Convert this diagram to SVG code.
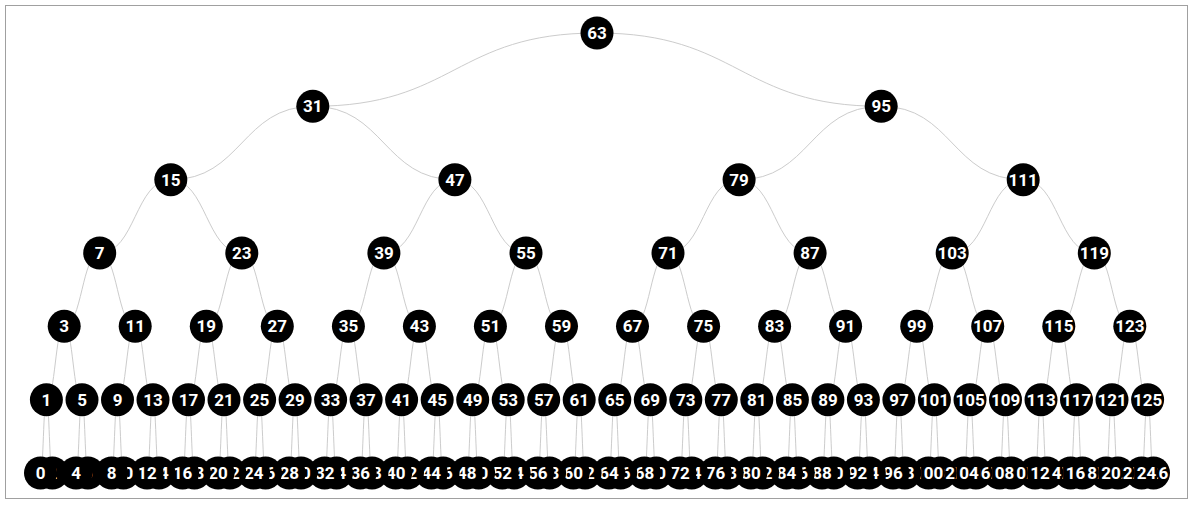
<svg xmlns="http://www.w3.org/2000/svg" width="1193" height="507" viewBox="0 0 1193 507">
<style>
.link{fill:none;stroke:#cccccc;stroke-width:1}
.node circle{fill:#000}
.node text{fill:#fff;font-family:Roboto,"Liberation Sans",sans-serif;font-weight:bold;font-size:17px;text-anchor:middle}
</style>
<rect x="5.5" y="5.5" width="1182" height="493" fill="#fff" stroke="#a0a0a0" stroke-width="1"/>
<g id="links">
<path class="link" d="M597,33C454.9,33 454.9,106.3 312.8,106.3"/>
<path class="link" d="M597,33C739.1,33 739.1,106.3 881.2,106.3"/>
<path class="link" d="M312.8,106.3C241.8,106.3 241.8,179.7 170.8,179.7"/>
<path class="link" d="M312.8,106.3C383.9,106.3 383.9,179.7 454.9,179.7"/>
<path class="link" d="M881.2,106.3C810.2,106.3 810.2,179.7 739.1,179.7"/>
<path class="link" d="M881.2,106.3C952.2,106.3 952.2,179.7 1023.2,179.7"/>
<path class="link" d="M170.8,179.7C135.3,179.7 135.3,253 99.7,253"/>
<path class="link" d="M170.8,179.7C206.3,179.7 206.3,253 241.8,253"/>
<path class="link" d="M454.9,179.7C419.4,179.7 419.4,253 383.9,253"/>
<path class="link" d="M454.9,179.7C490.5,179.7 490.5,253 526,253"/>
<path class="link" d="M739.1,179.7C703.6,179.7 703.6,253 668,253"/>
<path class="link" d="M739.1,179.7C774.6,179.7 774.6,253 810.1,253"/>
<path class="link" d="M1023.2,179.7C987.7,179.7 987.7,253 952.2,253"/>
<path class="link" d="M1023.2,179.7C1058.8,179.7 1058.8,253 1094.3,253"/>
<path class="link" d="M99.7,253C82,253 82,326.3 64.2,326.3"/>
<path class="link" d="M99.7,253C117.5,253 117.5,326.3 135.2,326.3"/>
<path class="link" d="M241.8,253C224,253 224,326.3 206.3,326.3"/>
<path class="link" d="M241.8,253C259.6,253 259.6,326.3 277.3,326.3"/>
<path class="link" d="M383.9,253C366.2,253 366.2,326.3 348.4,326.3"/>
<path class="link" d="M383.9,253C401.7,253 401.7,326.3 419.4,326.3"/>
<path class="link" d="M526,253C508.2,253 508.2,326.3 490.4,326.3"/>
<path class="link" d="M526,253C543.8,253 543.8,326.3 561.5,326.3"/>
<path class="link" d="M668,253C650.3,253 650.3,326.3 632.5,326.3"/>
<path class="link" d="M668,253C685.8,253 685.8,326.3 703.6,326.3"/>
<path class="link" d="M810.1,253C792.4,253 792.4,326.3 774.6,326.3"/>
<path class="link" d="M810.1,253C827.9,253 827.9,326.3 845.6,326.3"/>
<path class="link" d="M952.2,253C934.5,253 934.5,326.3 916.7,326.3"/>
<path class="link" d="M952.2,253C970,253 970,326.3 987.7,326.3"/>
<path class="link" d="M1094.3,253C1076.6,253 1076.6,326.3 1058.8,326.3"/>
<path class="link" d="M1094.3,253C1112.1,253 1112.1,326.3 1129.8,326.3"/>
<path class="link" d="M64.2,326.3C55.3,326.3 55.3,399.7 46.4,399.7"/>
<path class="link" d="M64.2,326.3C73.1,326.3 73.1,399.7 82,399.7"/>
<path class="link" d="M135.2,326.3C126.4,326.3 126.4,399.7 117.5,399.7"/>
<path class="link" d="M135.2,326.3C144.1,326.3 144.1,399.7 153,399.7"/>
<path class="link" d="M206.3,326.3C197.4,326.3 197.4,399.7 188.5,399.7"/>
<path class="link" d="M206.3,326.3C215.2,326.3 215.2,399.7 224,399.7"/>
<path class="link" d="M277.3,326.3C268.5,326.3 268.5,399.7 259.6,399.7"/>
<path class="link" d="M277.3,326.3C286.2,326.3 286.2,399.7 295.1,399.7"/>
<path class="link" d="M348.4,326.3C339.5,326.3 339.5,399.7 330.6,399.7"/>
<path class="link" d="M348.4,326.3C357.3,326.3 357.3,399.7 366.1,399.7"/>
<path class="link" d="M419.4,326.3C410.5,326.3 410.5,399.7 401.6,399.7"/>
<path class="link" d="M419.4,326.3C428.3,326.3 428.3,399.7 437.2,399.7"/>
<path class="link" d="M490.4,326.3C481.6,326.3 481.6,399.7 472.7,399.7"/>
<path class="link" d="M490.4,326.3C499.3,326.3 499.3,399.7 508.2,399.7"/>
<path class="link" d="M561.5,326.3C552.6,326.3 552.6,399.7 543.7,399.7"/>
<path class="link" d="M561.5,326.3C570.4,326.3 570.4,399.7 579.2,399.7"/>
<path class="link" d="M632.5,326.3C623.7,326.3 623.7,399.7 614.8,399.7"/>
<path class="link" d="M632.5,326.3C641.4,326.3 641.4,399.7 650.3,399.7"/>
<path class="link" d="M703.6,326.3C694.7,326.3 694.7,399.7 685.8,399.7"/>
<path class="link" d="M703.6,326.3C712.5,326.3 712.5,399.7 721.3,399.7"/>
<path class="link" d="M774.6,326.3C765.7,326.3 765.7,399.7 756.8,399.7"/>
<path class="link" d="M774.6,326.3C783.5,326.3 783.5,399.7 792.4,399.7"/>
<path class="link" d="M845.6,326.3C836.8,326.3 836.8,399.7 827.9,399.7"/>
<path class="link" d="M845.6,326.3C854.5,326.3 854.5,399.7 863.4,399.7"/>
<path class="link" d="M916.7,326.3C907.8,326.3 907.8,399.7 898.9,399.7"/>
<path class="link" d="M916.7,326.3C925.6,326.3 925.6,399.7 934.4,399.7"/>
<path class="link" d="M987.7,326.3C978.9,326.3 978.9,399.7 970,399.7"/>
<path class="link" d="M987.7,326.3C996.6,326.3 996.6,399.7 1005.5,399.7"/>
<path class="link" d="M1058.8,326.3C1049.9,326.3 1049.9,399.7 1041,399.7"/>
<path class="link" d="M1058.8,326.3C1067.7,326.3 1067.7,399.7 1076.5,399.7"/>
<path class="link" d="M1129.8,326.3C1120.9,326.3 1120.9,399.7 1112,399.7"/>
<path class="link" d="M1129.8,326.3C1138.7,326.3 1138.7,399.7 1147.6,399.7"/>
<path class="link" d="M46.4,399.7C43.4,399.7 43.4,473 40.5,473"/>
<path class="link" d="M46.4,399.7C49.4,399.7 49.4,473 52.3,473"/>
<path class="link" d="M82,399.7C79,399.7 79,473 76.1,473"/>
<path class="link" d="M82,399.7C85,399.7 85,473 87.9,473"/>
<path class="link" d="M117.5,399.7C114.5,399.7 114.5,473 111.6,473"/>
<path class="link" d="M117.5,399.7C120.5,399.7 120.5,473 123.4,473"/>
<path class="link" d="M153,399.7C150,399.7 150,473 147.1,473"/>
<path class="link" d="M153,399.7C156,399.7 156,473 158.9,473"/>
<path class="link" d="M188.5,399.7C185.5,399.7 185.5,473 182.6,473"/>
<path class="link" d="M188.5,399.7C191.5,399.7 191.5,473 194.4,473"/>
<path class="link" d="M224,399.7C221,399.7 221,473 218.1,473"/>
<path class="link" d="M224,399.7C227,399.7 227,473 229.9,473"/>
<path class="link" d="M259.6,399.7C256.6,399.7 256.6,473 253.7,473"/>
<path class="link" d="M259.6,399.7C262.6,399.7 262.6,473 265.5,473"/>
<path class="link" d="M295.1,399.7C292.1,399.7 292.1,473 289.2,473"/>
<path class="link" d="M295.1,399.7C298.1,399.7 298.1,473 301,473"/>
<path class="link" d="M330.6,399.7C327.6,399.7 327.6,473 324.7,473"/>
<path class="link" d="M330.6,399.7C333.6,399.7 333.6,473 336.5,473"/>
<path class="link" d="M366.1,399.7C363.1,399.7 363.1,473 360.2,473"/>
<path class="link" d="M366.1,399.7C369.1,399.7 369.1,473 372,473"/>
<path class="link" d="M401.6,399.7C398.6,399.7 398.6,473 395.7,473"/>
<path class="link" d="M401.6,399.7C404.6,399.7 404.6,473 407.5,473"/>
<path class="link" d="M437.2,399.7C434.2,399.7 434.2,473 431.3,473"/>
<path class="link" d="M437.2,399.7C440.2,399.7 440.2,473 443.1,473"/>
<path class="link" d="M472.7,399.7C469.7,399.7 469.7,473 466.8,473"/>
<path class="link" d="M472.7,399.7C475.7,399.7 475.7,473 478.6,473"/>
<path class="link" d="M508.2,399.7C505.2,399.7 505.2,473 502.3,473"/>
<path class="link" d="M508.2,399.7C511.2,399.7 511.2,473 514.1,473"/>
<path class="link" d="M543.7,399.7C540.7,399.7 540.7,473 537.8,473"/>
<path class="link" d="M543.7,399.7C546.7,399.7 546.7,473 549.6,473"/>
<path class="link" d="M579.2,399.7C576.2,399.7 576.2,473 573.3,473"/>
<path class="link" d="M579.2,399.7C582.2,399.7 582.2,473 585.1,473"/>
<path class="link" d="M614.8,399.7C611.8,399.7 611.8,473 608.9,473"/>
<path class="link" d="M614.8,399.7C617.8,399.7 617.8,473 620.7,473"/>
<path class="link" d="M650.3,399.7C647.3,399.7 647.3,473 644.4,473"/>
<path class="link" d="M650.3,399.7C653.3,399.7 653.3,473 656.2,473"/>
<path class="link" d="M685.8,399.7C682.8,399.7 682.8,473 679.9,473"/>
<path class="link" d="M685.8,399.7C688.8,399.7 688.8,473 691.7,473"/>
<path class="link" d="M721.3,399.7C718.3,399.7 718.3,473 715.4,473"/>
<path class="link" d="M721.3,399.7C724.3,399.7 724.3,473 727.2,473"/>
<path class="link" d="M756.8,399.7C753.8,399.7 753.8,473 750.9,473"/>
<path class="link" d="M756.8,399.7C759.8,399.7 759.8,473 762.7,473"/>
<path class="link" d="M792.4,399.7C789.4,399.7 789.4,473 786.5,473"/>
<path class="link" d="M792.4,399.7C795.4,399.7 795.4,473 798.3,473"/>
<path class="link" d="M827.9,399.7C824.9,399.7 824.9,473 822,473"/>
<path class="link" d="M827.9,399.7C830.9,399.7 830.9,473 833.8,473"/>
<path class="link" d="M863.4,399.7C860.4,399.7 860.4,473 857.5,473"/>
<path class="link" d="M863.4,399.7C866.4,399.7 866.4,473 869.3,473"/>
<path class="link" d="M898.9,399.7C895.9,399.7 895.9,473 893,473"/>
<path class="link" d="M898.9,399.7C901.9,399.7 901.9,473 904.8,473"/>
<path class="link" d="M934.4,399.7C931.4,399.7 931.4,473 928.5,473"/>
<path class="link" d="M934.4,399.7C937.4,399.7 937.4,473 940.3,473"/>
<path class="link" d="M970,399.7C967,399.7 967,473 964.1,473"/>
<path class="link" d="M970,399.7C973,399.7 973,473 975.9,473"/>
<path class="link" d="M1005.5,399.7C1002.5,399.7 1002.5,473 999.6,473"/>
<path class="link" d="M1005.5,399.7C1008.5,399.7 1008.5,473 1011.4,473"/>
<path class="link" d="M1041,399.7C1038,399.7 1038,473 1035.1,473"/>
<path class="link" d="M1041,399.7C1044,399.7 1044,473 1046.9,473"/>
<path class="link" d="M1076.5,399.7C1073.5,399.7 1073.5,473 1070.6,473"/>
<path class="link" d="M1076.5,399.7C1079.5,399.7 1079.5,473 1082.4,473"/>
<path class="link" d="M1112,399.7C1109,399.7 1109,473 1106.1,473"/>
<path class="link" d="M1112,399.7C1115,399.7 1115,473 1117.9,473"/>
<path class="link" d="M1147.6,399.7C1144.6,399.7 1144.6,473 1141.7,473"/>
<path class="link" d="M1147.6,399.7C1150.6,399.7 1150.6,473 1153.5,473"/>
</g>
<g id="nodes">
<g id="n63" class="node" transform="translate(597,33)"><circle r="16.5"/><text dy="0.35em">63</text></g>
<g id="n31" class="node" transform="translate(312.8,106.3)"><circle r="16.5"/><text dy="0.35em">31</text></g>
<g id="n95" class="node" transform="translate(881.2,106.3)"><circle r="16.5"/><text dy="0.35em">95</text></g>
<g id="n15" class="node" transform="translate(170.8,179.7)"><circle r="16.5"/><text dy="0.35em">15</text></g>
<g id="n47" class="node" transform="translate(454.9,179.7)"><circle r="16.5"/><text dy="0.35em">47</text></g>
<g id="n79" class="node" transform="translate(739.1,179.7)"><circle r="16.5"/><text dy="0.35em">79</text></g>
<g id="n111" class="node" transform="translate(1023.2,179.7)"><circle r="16.5"/><text dy="0.35em">111</text></g>
<g id="n7" class="node" transform="translate(99.7,253)"><circle r="16.5"/><text dy="0.35em">7</text></g>
<g id="n23" class="node" transform="translate(241.8,253)"><circle r="16.5"/><text dy="0.35em">23</text></g>
<g id="n39" class="node" transform="translate(383.9,253)"><circle r="16.5"/><text dy="0.35em">39</text></g>
<g id="n55" class="node" transform="translate(526,253)"><circle r="16.5"/><text dy="0.35em">55</text></g>
<g id="n71" class="node" transform="translate(668,253)"><circle r="16.5"/><text dy="0.35em">71</text></g>
<g id="n87" class="node" transform="translate(810.1,253)"><circle r="16.5"/><text dy="0.35em">87</text></g>
<g id="n103" class="node" transform="translate(952.2,253)"><circle r="16.5"/><text dy="0.35em">103</text></g>
<g id="n119" class="node" transform="translate(1094.3,253)"><circle r="16.5"/><text dy="0.35em">119</text></g>
<g id="n3" class="node" transform="translate(64.2,326.3)"><circle r="16.5"/><text dy="0.35em">3</text></g>
<g id="n11" class="node" transform="translate(135.2,326.3)"><circle r="16.5"/><text dy="0.35em">11</text></g>
<g id="n19" class="node" transform="translate(206.3,326.3)"><circle r="16.5"/><text dy="0.35em">19</text></g>
<g id="n27" class="node" transform="translate(277.3,326.3)"><circle r="16.5"/><text dy="0.35em">27</text></g>
<g id="n35" class="node" transform="translate(348.4,326.3)"><circle r="16.5"/><text dy="0.35em">35</text></g>
<g id="n43" class="node" transform="translate(419.4,326.3)"><circle r="16.5"/><text dy="0.35em">43</text></g>
<g id="n51" class="node" transform="translate(490.4,326.3)"><circle r="16.5"/><text dy="0.35em">51</text></g>
<g id="n59" class="node" transform="translate(561.5,326.3)"><circle r="16.5"/><text dy="0.35em">59</text></g>
<g id="n67" class="node" transform="translate(632.5,326.3)"><circle r="16.5"/><text dy="0.35em">67</text></g>
<g id="n75" class="node" transform="translate(703.6,326.3)"><circle r="16.5"/><text dy="0.35em">75</text></g>
<g id="n83" class="node" transform="translate(774.6,326.3)"><circle r="16.5"/><text dy="0.35em">83</text></g>
<g id="n91" class="node" transform="translate(845.6,326.3)"><circle r="16.5"/><text dy="0.35em">91</text></g>
<g id="n99" class="node" transform="translate(916.7,326.3)"><circle r="16.5"/><text dy="0.35em">99</text></g>
<g id="n107" class="node" transform="translate(987.7,326.3)"><circle r="16.5"/><text dy="0.35em">107</text></g>
<g id="n115" class="node" transform="translate(1058.8,326.3)"><circle r="16.5"/><text dy="0.35em">115</text></g>
<g id="n123" class="node" transform="translate(1129.8,326.3)"><circle r="16.5"/><text dy="0.35em">123</text></g>
<g id="n1" class="node" transform="translate(46.4,399.7)"><circle r="16.5"/><text dy="0.35em">1</text></g>
<g id="n5" class="node" transform="translate(82,399.7)"><circle r="16.5"/><text dy="0.35em">5</text></g>
<g id="n9" class="node" transform="translate(117.5,399.7)"><circle r="16.5"/><text dy="0.35em">9</text></g>
<g id="n13" class="node" transform="translate(153,399.7)"><circle r="16.5"/><text dy="0.35em">13</text></g>
<g id="n17" class="node" transform="translate(188.5,399.7)"><circle r="16.5"/><text dy="0.35em">17</text></g>
<g id="n21" class="node" transform="translate(224,399.7)"><circle r="16.5"/><text dy="0.35em">21</text></g>
<g id="n25" class="node" transform="translate(259.6,399.7)"><circle r="16.5"/><text dy="0.35em">25</text></g>
<g id="n29" class="node" transform="translate(295.1,399.7)"><circle r="16.5"/><text dy="0.35em">29</text></g>
<g id="n33" class="node" transform="translate(330.6,399.7)"><circle r="16.5"/><text dy="0.35em">33</text></g>
<g id="n37" class="node" transform="translate(366.1,399.7)"><circle r="16.5"/><text dy="0.35em">37</text></g>
<g id="n41" class="node" transform="translate(401.6,399.7)"><circle r="16.5"/><text dy="0.35em">41</text></g>
<g id="n45" class="node" transform="translate(437.2,399.7)"><circle r="16.5"/><text dy="0.35em">45</text></g>
<g id="n49" class="node" transform="translate(472.7,399.7)"><circle r="16.5"/><text dy="0.35em">49</text></g>
<g id="n53" class="node" transform="translate(508.2,399.7)"><circle r="16.5"/><text dy="0.35em">53</text></g>
<g id="n57" class="node" transform="translate(543.7,399.7)"><circle r="16.5"/><text dy="0.35em">57</text></g>
<g id="n61" class="node" transform="translate(579.2,399.7)"><circle r="16.5"/><text dy="0.35em">61</text></g>
<g id="n65" class="node" transform="translate(614.8,399.7)"><circle r="16.5"/><text dy="0.35em">65</text></g>
<g id="n69" class="node" transform="translate(650.3,399.7)"><circle r="16.5"/><text dy="0.35em">69</text></g>
<g id="n73" class="node" transform="translate(685.8,399.7)"><circle r="16.5"/><text dy="0.35em">73</text></g>
<g id="n77" class="node" transform="translate(721.3,399.7)"><circle r="16.5"/><text dy="0.35em">77</text></g>
<g id="n81" class="node" transform="translate(756.8,399.7)"><circle r="16.5"/><text dy="0.35em">81</text></g>
<g id="n85" class="node" transform="translate(792.4,399.7)"><circle r="16.5"/><text dy="0.35em">85</text></g>
<g id="n89" class="node" transform="translate(827.9,399.7)"><circle r="16.5"/><text dy="0.35em">89</text></g>
<g id="n93" class="node" transform="translate(863.4,399.7)"><circle r="16.5"/><text dy="0.35em">93</text></g>
<g id="n97" class="node" transform="translate(898.9,399.7)"><circle r="16.5"/><text dy="0.35em">97</text></g>
<g id="n101" class="node" transform="translate(934.4,399.7)"><circle r="16.5"/><text dy="0.35em">101</text></g>
<g id="n105" class="node" transform="translate(970,399.7)"><circle r="16.5"/><text dy="0.35em">105</text></g>
<g id="n109" class="node" transform="translate(1005.5,399.7)"><circle r="16.5"/><text dy="0.35em">109</text></g>
<g id="n113" class="node" transform="translate(1041,399.7)"><circle r="16.5"/><text dy="0.35em">113</text></g>
<g id="n117" class="node" transform="translate(1076.5,399.7)"><circle r="16.5"/><text dy="0.35em">117</text></g>
<g id="n121" class="node" transform="translate(1112,399.7)"><circle r="16.5"/><text dy="0.35em">121</text></g>
<g id="n125" class="node" transform="translate(1147.6,399.7)"><circle r="16.5"/><text dy="0.35em">125</text></g>
<g id="n126" class="node" transform="translate(1153.5,473)"><circle r="16.5"/><text dy="0.35em">126</text></g>
<g id="n124" class="node" transform="translate(1141.7,473)"><circle r="16.5"/><text dy="0.35em">124</text></g>
<g id="n122" class="node" transform="translate(1117.9,473)"><circle r="16.5"/><text dy="0.35em">122</text></g>
<g id="n120" class="node" transform="translate(1106.1,473)"><circle r="16.5"/><text dy="0.35em">120</text></g>
<g id="n118" class="node" transform="translate(1082.4,473)"><circle r="16.5"/><text dy="0.35em">118</text></g>
<g id="n116" class="node" transform="translate(1070.6,473)"><circle r="16.5"/><text dy="0.35em">116</text></g>
<g id="n114" class="node" transform="translate(1046.9,473)"><circle r="16.5"/><text dy="0.35em">114</text></g>
<g id="n112" class="node" transform="translate(1035.1,473)"><circle r="16.5"/><text dy="0.35em">112</text></g>
<g id="n110" class="node" transform="translate(1011.4,473)"><circle r="16.5"/><text dy="0.35em">110</text></g>
<g id="n108" class="node" transform="translate(999.6,473)"><circle r="16.5"/><text dy="0.35em">108</text></g>
<g id="n106" class="node" transform="translate(975.9,473)"><circle r="16.5"/><text dy="0.35em">106</text></g>
<g id="n104" class="node" transform="translate(964.1,473)"><circle r="16.5"/><text dy="0.35em">104</text></g>
<g id="n102" class="node" transform="translate(940.3,473)"><circle r="16.5"/><text dy="0.35em">102</text></g>
<g id="n100" class="node" transform="translate(928.5,473)"><circle r="16.5"/><text dy="0.35em">100</text></g>
<g id="n98" class="node" transform="translate(904.8,473)"><circle r="16.5"/><text dy="0.35em">98</text></g>
<g id="n96" class="node" transform="translate(893,473)"><circle r="16.5"/><text dy="0.35em">96</text></g>
<g id="n94" class="node" transform="translate(869.3,473)"><circle r="16.5"/><text dy="0.35em">94</text></g>
<g id="n92" class="node" transform="translate(857.5,473)"><circle r="16.5"/><text dy="0.35em">92</text></g>
<g id="n90" class="node" transform="translate(833.8,473)"><circle r="16.5"/><text dy="0.35em">90</text></g>
<g id="n88" class="node" transform="translate(822,473)"><circle r="16.5"/><text dy="0.35em">88</text></g>
<g id="n86" class="node" transform="translate(798.3,473)"><circle r="16.5"/><text dy="0.35em">86</text></g>
<g id="n84" class="node" transform="translate(786.5,473)"><circle r="16.5"/><text dy="0.35em">84</text></g>
<g id="n82" class="node" transform="translate(762.7,473)"><circle r="16.5"/><text dy="0.35em">82</text></g>
<g id="n80" class="node" transform="translate(750.9,473)"><circle r="16.5"/><text dy="0.35em">80</text></g>
<g id="n78" class="node" transform="translate(727.2,473)"><circle r="16.5"/><text dy="0.35em">78</text></g>
<g id="n76" class="node" transform="translate(715.4,473)"><circle r="16.5"/><text dy="0.35em">76</text></g>
<g id="n74" class="node" transform="translate(691.7,473)"><circle r="16.5"/><text dy="0.35em">74</text></g>
<g id="n72" class="node" transform="translate(679.9,473)"><circle r="16.5"/><text dy="0.35em">72</text></g>
<g id="n70" class="node" transform="translate(656.2,473)"><circle r="16.5"/><text dy="0.35em">70</text></g>
<g id="n68" class="node" transform="translate(644.4,473)"><circle r="16.5"/><text dy="0.35em">68</text></g>
<g id="n66" class="node" transform="translate(620.7,473)"><circle r="16.5"/><text dy="0.35em">66</text></g>
<g id="n64" class="node" transform="translate(608.9,473)"><circle r="16.5"/><text dy="0.35em">64</text></g>
<g id="n62" class="node" transform="translate(585.1,473)"><circle r="16.5"/><text dy="0.35em">62</text></g>
<g id="n60" class="node" transform="translate(573.3,473)"><circle r="16.5"/><text dy="0.35em">60</text></g>
<g id="n58" class="node" transform="translate(549.6,473)"><circle r="16.5"/><text dy="0.35em">58</text></g>
<g id="n56" class="node" transform="translate(537.8,473)"><circle r="16.5"/><text dy="0.35em">56</text></g>
<g id="n54" class="node" transform="translate(514.1,473)"><circle r="16.5"/><text dy="0.35em">54</text></g>
<g id="n52" class="node" transform="translate(502.3,473)"><circle r="16.5"/><text dy="0.35em">52</text></g>
<g id="n50" class="node" transform="translate(478.6,473)"><circle r="16.5"/><text dy="0.35em">50</text></g>
<g id="n48" class="node" transform="translate(466.8,473)"><circle r="16.5"/><text dy="0.35em">48</text></g>
<g id="n46" class="node" transform="translate(443.1,473)"><circle r="16.5"/><text dy="0.35em">46</text></g>
<g id="n44" class="node" transform="translate(431.3,473)"><circle r="16.5"/><text dy="0.35em">44</text></g>
<g id="n42" class="node" transform="translate(407.5,473)"><circle r="16.5"/><text dy="0.35em">42</text></g>
<g id="n40" class="node" transform="translate(395.7,473)"><circle r="16.5"/><text dy="0.35em">40</text></g>
<g id="n38" class="node" transform="translate(372,473)"><circle r="16.5"/><text dy="0.35em">38</text></g>
<g id="n36" class="node" transform="translate(360.2,473)"><circle r="16.5"/><text dy="0.35em">36</text></g>
<g id="n34" class="node" transform="translate(336.5,473)"><circle r="16.5"/><text dy="0.35em">34</text></g>
<g id="n32" class="node" transform="translate(324.7,473)"><circle r="16.5"/><text dy="0.35em">32</text></g>
<g id="n30" class="node" transform="translate(301,473)"><circle r="16.5"/><text dy="0.35em">30</text></g>
<g id="n28" class="node" transform="translate(289.2,473)"><circle r="16.5"/><text dy="0.35em">28</text></g>
<g id="n26" class="node" transform="translate(265.5,473)"><circle r="16.5"/><text dy="0.35em">26</text></g>
<g id="n24" class="node" transform="translate(253.7,473)"><circle r="16.5"/><text dy="0.35em">24</text></g>
<g id="n22" class="node" transform="translate(229.9,473)"><circle r="16.5"/><text dy="0.35em">22</text></g>
<g id="n20" class="node" transform="translate(218.1,473)"><circle r="16.5"/><text dy="0.35em">20</text></g>
<g id="n18" class="node" transform="translate(194.4,473)"><circle r="16.5"/><text dy="0.35em">18</text></g>
<g id="n16" class="node" transform="translate(182.6,473)"><circle r="16.5"/><text dy="0.35em">16</text></g>
<g id="n14" class="node" transform="translate(158.9,473)"><circle r="16.5"/><text dy="0.35em">14</text></g>
<g id="n12" class="node" transform="translate(147.1,473)"><circle r="16.5"/><text dy="0.35em">12</text></g>
<g id="n10" class="node" transform="translate(123.4,473)"><circle r="16.5"/><text dy="0.35em">10</text></g>
<g id="n8" class="node" transform="translate(111.6,473)"><circle r="16.5"/><text dy="0.35em">8</text></g>
<g id="n6" class="node" transform="translate(87.9,473)"><circle r="16.5"/><text dy="0.35em">6</text></g>
<g id="n4" class="node" transform="translate(76.1,473)"><circle r="16.5"/><text dy="0.35em">4</text></g>
<g id="n2" class="node" transform="translate(52.3,473)"><circle r="16.5"/><text dy="0.35em">2</text></g>
<g id="n0" class="node" transform="translate(40.5,473)"><circle r="16.5"/><text dy="0.35em">0</text></g>
</g>
</svg>
